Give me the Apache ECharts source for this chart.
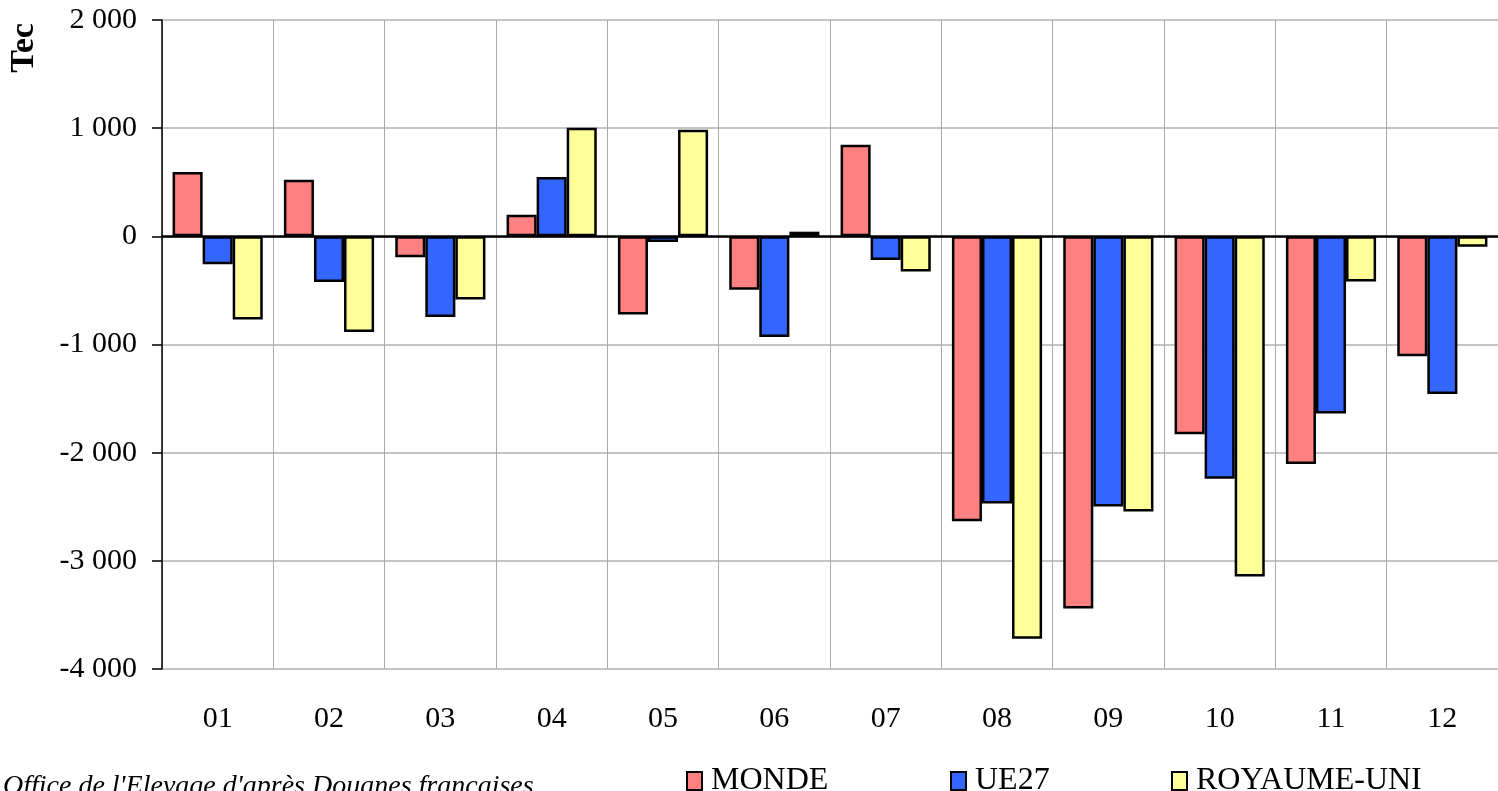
<!DOCTYPE html>
<html>
<head>
<meta charset="utf-8">
<script src="https://cdn.jsdelivr.net/npm/echarts@6/dist/echarts.min.js"></script>
<style>
html,body{margin:0;padding:0;background:#fff;}
#c{width:1498px;height:791px;}
</style>
</head>
<body>
<div id="c"></div>
<script>
var categories = ['01','02','03','04','05','06','07','08','09','10','11','12'];
var monde = [595, 524, -194, 200, -722, -493, 847, -2635, -3440, -1830, -2105, -1108];
var ue27 = [-259, -422, -745, 549, -52, -930, -218, -2470, -2497, -2240, -1639, -1457];
var royaumeUni = [-770, -884, -585, 1005, 986, 43, -326, -3720, -2543, -3145, -417, -96];
var yTicks = {min: -4000, max: 2000, interval: 1000};
var sourceText = "Office de l'Elevage d'après Douanes françaises";
var yName = 'Tec';

var FONT = "'Liberation Serif', 'Times New Roman', serif";
var chart = echarts.init(document.getElementById('c'), null, {renderer: 'canvas'});

function fmt(v) {
  var s = Math.abs(v).toString();
  var out = s.replace(/\B(?=(\d{3})+(?!\d))/g, ' ');
  return (v < 0 ? '-' : '') + out;
}

function barSeries(name, data, color, extra) {
  var s = {
    name: name,
    type: 'bar',
    data: data,
    barGap: '0%',
    barCategoryGap: '19%',
    itemStyle: {color: color, borderColor: '#000', borderWidth: 2.5},
    emphasis: {disabled: true}
  };
  if (extra) for (var k in extra) s[k] = extra[k];
  return s;
}

var legendCommon = {
  top: 760,
  itemWidth: 15,
  itemHeight: 18,
  icon: 'rect',
  textStyle: {fontFamily: FONT, fontSize: 32, color: '#000', padding: [0, 0, 0, 4]},
  itemStyle: {borderColor: '#000', borderWidth: 2}
};

var option = {
  backgroundColor: '#fff',
  animation: false,
  grid: {left: 162, top: 20, width: 1342, height: 649, containLabel: false},
  legend: [
    Object.assign({}, legendCommon, {left: 681, data: ['MONDE']}),
    Object.assign({}, legendCommon, {left: 945, data: ['UE27']}),
    Object.assign({}, legendCommon, {left: 1166, data: ['ROYAUME-UNI']})
  ],
  xAxis: {
    type: 'category',
    data: categories,
    position: 'bottom',
    axisLine: {show: false, onZero: false},
    axisTick: {show: false},
    axisLabel: {fontFamily: FONT, fontSize: 30, color: '#000', margin: 35},
    splitLine: {show: true, lineStyle: {color: '#aaaaaa', width: 1}}
  },
  yAxis: {
    type: 'value',
    min: yTicks.min,
    max: yTicks.max,
    interval: yTicks.interval,
    axisLine: {show: true, lineStyle: {color: '#000', width: 1.5}},
    axisTick: {show: true, length: 10, inside: false, lineStyle: {color: '#000', width: 1.5}},
    axisLabel: {fontFamily: FONT, fontSize: 30, color: '#000', margin: 25, formatter: fmt},
    splitLine: {show: true, lineStyle: {color: '#b0b0b0', width: 1.5}}
  },
  series: [
    barSeries('MONDE', monde, '#FF8080', {
      markLine: {
        silent: true,
        symbol: ['none', 'none'],
        label: {show: false},
        lineStyle: {color: '#000', width: 2.5, type: 'solid'},
        data: [{yAxis: 0}],
        z: 10
      }
    }),
    barSeries('UE27', ue27, '#3366FF'),
    barSeries('ROYAUME-UNI', royaumeUni, '#FFFF99')
  ],
  graphic: [
    {
      type: 'text',
      x: 24, y: 48,
      rotation: Math.PI / 2,
      style: {text: yName, fontFamily: FONT, fontSize: 34, fontWeight: 'bold', fill: '#000', textAlign: 'center', textVerticalAlign: 'middle'}
    },
    {
      type: 'text',
      left: 3, top: 773,
      style: {text: sourceText, fontFamily: FONT, fontSize: 28, fontStyle: 'italic', fill: '#000'}
    }
  ]
};
chart.setOption(option);
</script>
</body>
</html>
